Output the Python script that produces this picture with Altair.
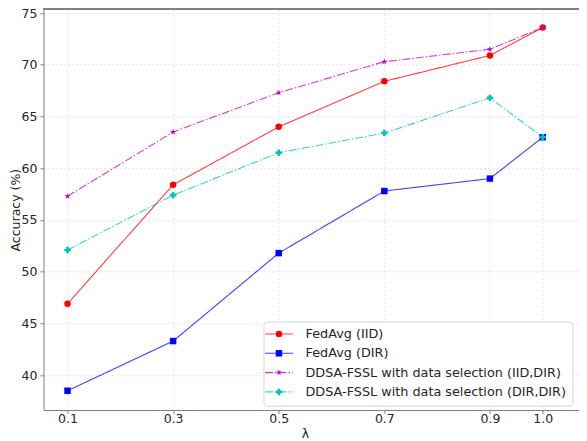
import altair as alt
import pandas as pd

lambdas = [0.1, 0.3, 0.5, 0.7, 0.9, 1.0]
series_names = [
    "FedAvg (IID)",
    "FedAvg (DIR)",
    "DDSA-FSSL with data selection (IID,DIR)",
    "DDSA-FSSL with data selection (DIR,DIR)",
]
fedavg_iid = [46.9, 58.4, 64.0, 68.4, 70.9, 73.6]
fedavg_dir = [38.5, 43.3, 51.8, 57.8, 59.0, 63.0]
ddsa_iid_dir = [57.3, 63.5, 67.3, 70.3, 71.5, 73.6]
ddsa_dir_dir = [52.1, 57.4, 61.5, 63.4, 66.8, 63.0]

x_ticks = [0.1, 0.3, 0.5, 0.7, 0.9, 1.0]
y_ticks = [40, 45, 50, 55, 60, 65, 70, 75]

colors = ["#ff0000", "#0000ff", "#bf00bf", "#00bfbf"]
dashes = [[1, 0], [1, 0], [8, 2, 1.5, 2], [8, 2, 1.5, 2]]
star = "M0,-1L0.2245,-0.309L0.951,-0.309L0.363,0.118L0.588,0.809L0,0.382L-0.588,0.809L-0.363,0.118L-0.951,-0.309L-0.2245,-0.309Z"
shapes = ["circle", "square", star, "cross"]

marker_keys = [n + " (marker)" for n in series_names]

rows = []
for name, key, vals in zip(series_names, marker_keys,
                           [fedavg_iid, fedavg_dir, ddsa_iid_dir, ddsa_dir_dir]):
    for i, (lam, v) in enumerate(zip(lambdas, vals)):
        rows.append({"lam": lam, "acc": v, "series": name, "series_m": key, "order": i})
df = pd.DataFrame(rows)

W = 535.5
H = 400.7
LX = 220.0
LY = 312.3
LFS = 12.8

x_scale = alt.Scale(domain=[0.0545, 0.0545 + W / 528.0], nice=False, zero=False)
y_scale = alt.Scale(domain=[36.64, 75.36], nice=False, zero=False)

x_enc = alt.X("lam:Q", scale=x_scale,
              axis=alt.Axis(values=x_ticks, format=".1f", title="λ",
                            titleX=261.5, titleY=27.5, titleAnchor="start", titleAlign="center",
                            titleBaseline="alphabetic", labelPadding=-1))
y_enc = alt.Y("acc:Q", scale=y_scale,
              axis=alt.Axis(values=y_ticks, format="d", title="Accuracy (%)",
                            titleX=-28, titleY=H / 2, titleAnchor="start", titleAlign="center",
                            titleBaseline="middle", titleAngle=270, labelPadding=3))

base = alt.Chart(df)

lines = base.mark_line(strokeWidth=1.1, opacity=0.75).encode(
    x=x_enc,
    y=y_enc,
    order="order:Q",
    color=alt.Color("series:N", scale=alt.Scale(domain=series_names, range=colors),
                    legend=alt.Legend(title=None, orient="none", legendX=LX, legendY=LY,
                                      symbolType="M-4,0H4", symbolSize=49,
                                      symbolStrokeWidth=1.1, symbolOpacity=0.75,
                                      symbolOffset=3.07,
                                      labelFontSize=LFS, labelFont="DejaVu Sans",
                                      labelColor="#262626", labelOffset=20.1, labelLimit=0,
                                      rowPadding=5.3, padding=6,
                                      fillColor="#ffffff", strokeColor="#d6d6d6",
                                      cornerRadius=3)),
    strokeDash=alt.StrokeDash("series:N", scale=alt.Scale(domain=series_names, range=dashes),
                              legend=alt.Legend(title=None, orient="none", legendX=LX, legendY=LY)),
)

points = base.mark_point(filled=True, opacity=1, strokeWidth=0).encode(
    x="lam:Q",
    y="acc:Q",
    fill=alt.Fill("series_m:N", scale=alt.Scale(domain=marker_keys, range=colors),
                  legend=alt.Legend(title=None, orient="none", legendX=LX, legendY=LY,
                                    symbolSize=42, symbolStrokeWidth=0, symbolOffset=3.07,
                                    labelFontSize=LFS, labelFont="DejaVu Sans",
                                    labelExpr="''", labelOffset=20.1, labelLimit=0,
                                    rowPadding=5.3, padding=6)),
    shape=alt.Shape("series_m:N", scale=alt.Scale(domain=marker_keys, range=shapes),
                    legend=alt.Legend(title=None, orient="none", legendX=LX, legendY=LY)),
    size=alt.value(42),
)

top_spine = alt.Chart(df).mark_rule(color="#808080", strokeWidth=1).encode(
    x=alt.value(0), x2=alt.value(W), y=alt.value(0)
)

chart = alt.layer(lines, points, top_spine).properties(
    width=W, height=H,
    autosize=alt.AutoSizeParams(type="none"),
    padding={"left": 35.5, "top": 1.3, "right": 0, "bottom": 31},
).configure_view(stroke=None).configure_axis(
    grid=True, gridColor="#dcdcdc", gridDash=[2, 2], gridWidth=0.8,
    domainColor="#808080", domainWidth=1,
    tickColor="#808080", tickSize=3.5, tickWidth=1,
    labelFont="DejaVu Sans", labelFontSize=12.5, labelColor="#262626",
    titleFont="DejaVu Sans", titleFontSize=12.5, titleColor="#262626", titleFontWeight="normal",
)

chart.save("out.html", embed_options={"renderer": "svg", "actions": False})
